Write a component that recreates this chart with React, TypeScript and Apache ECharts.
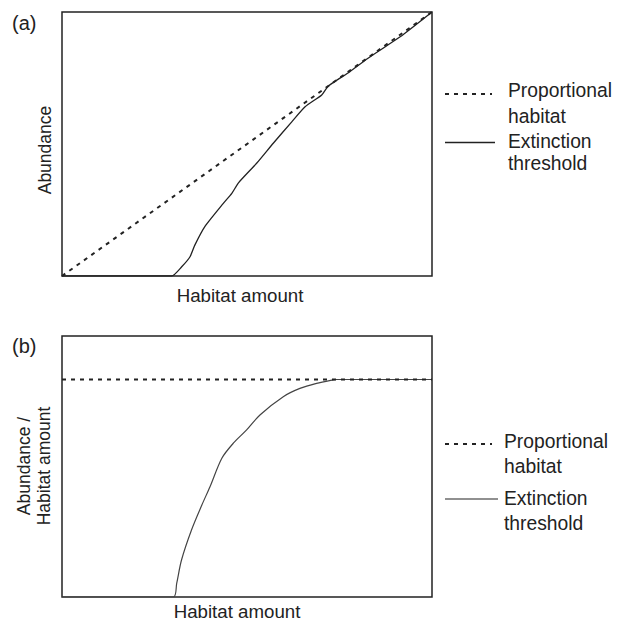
import React, { useEffect, useRef } from "react";
import * as echarts from "echarts";

// Panel (a): abundance vs habitat amount
const habitatA = [0, 0.296, 0.3235, 0.346, 0.359, 0.386, 0.436, 0.459, 0.477, 0.526, 0.571, 0.621, 0.657, 0.702, 0.72, 0.778, 0.824, 0.914, 1];
const abundanceA = [0, 0, 0.035, 0.073, 0.117, 0.187, 0.275, 0.313, 0.353, 0.427, 0.503, 0.584, 0.641, 0.686, 0.72, 0.774, 0.822, 0.906, 1];
const proportionalAX = [0, 1];
const proportionalAY = [0, 1];

// Panel (b): abundance / habitat amount vs habitat amount
const habitatB = [0, 0.301, 0.31, 0.323, 0.35, 0.378, 0.4, 0.432, 0.463, 0.499, 0.535, 0.598, 0.643, 0.688, 0.733, 0.742, 1];
const ratioB = [0, 0, 0.063, 0.17, 0.308, 0.423, 0.507, 0.638, 0.707, 0.768, 0.837, 0.921, 0.959, 0.982, 0.998, 1, 1];
const proportionalBX = [0, 1];
const proportionalBY = [1, 1];

const legendNames = ["Proportional\nhabitat", "Extinction\nthreshold"];
const panelLabels = ["(a)", "(b)"];
const xTitle = "Habitat amount";
const yTitles = ["Abundance", "Abundance /\nHabitat amount"];

const FONT = '"Liberation Sans", Arial, sans-serif';
const INK = "#222";

const zip = (xs: number[], ys: number[]) => xs.map((x, i) => [x, ys[i]]);

export default function App() {
  const ref = useRef<HTMLDivElement>(null);
  useEffect(() => {
    if (!ref.current) return;
    const chart = echarts.init(ref.current, undefined, { renderer: "svg" });
    const txt = (text: string, x: number, y: number, size: number, extra: any = {}) => ({
      type: "text",
      x,
      y,
      silent: true,
      ...extra,
      style: {
        text,
        fill: INK,
        font: `${size}px ${FONT}`,
        align: "left",
        verticalAlign: "middle",
        ...(extra.style || {}),
      },
    });
    const axisOff = {
      axisLine: { show: false },
      axisTick: { show: false },
      axisLabel: { show: false },
      splitLine: { show: false },
    };
    const lp = (l1: string) => l1.split("\n");
    const [propL1, propL2] = lp(legendNames[0]);
    const [extL1, extL2] = lp(legendNames[1]);
    chart.setOption({
      animation: false,
      backgroundColor: "#fff",
      grid: [
        { left: 62, top: 12, width: 370, height: 264, show: true, borderColor: INK, borderWidth: 1.5, backgroundColor: "transparent" },
        { left: 62, top: 336, width: 370, height: 261, show: true, borderColor: INK, borderWidth: 1.5, backgroundColor: "transparent" },
      ],
      xAxis: [
        { type: "value", gridIndex: 0, min: 0, max: 1, ...axisOff },
        { type: "value", gridIndex: 1, min: 0, max: 1, ...axisOff },
      ],
      yAxis: [
        { type: "value", gridIndex: 0, min: 0, max: 1, ...axisOff },
        { type: "value", gridIndex: 1, min: 0, max: 1.2, ...axisOff },
      ],
      series: [
        {
          name: "Extinction threshold (a)",
          type: "line",
          xAxisIndex: 0,
          yAxisIndex: 0,
          data: zip(habitatA, abundanceA),
          symbol: "none",
          smooth: 0.2,
          lineStyle: { color: INK, width: 1.3 },
        },
        {
          name: "Proportional habitat (a)",
          type: "line",
          xAxisIndex: 0,
          yAxisIndex: 0,
          data: zip(proportionalAX, proportionalAY),
          symbol: "none",
          lineStyle: { color: INK, width: 2, type: [4, 5] },
        },
        {
          name: "Extinction threshold (b)",
          type: "line",
          xAxisIndex: 1,
          yAxisIndex: 1,
          data: zip(habitatB, ratioB),
          symbol: "none",
          smooth: 0.3,
          lineStyle: { color: "#444", width: 1.2 },
        },
        {
          name: "Proportional habitat (b)",
          type: "line",
          xAxisIndex: 1,
          yAxisIndex: 1,
          data: zip(proportionalBX, proportionalBY),
          symbol: "none",
          lineStyle: { color: INK, width: 2, type: [4, 5] },
        },
      ],
      graphic: [
        txt(panelLabels[0], 12, 23, 20),
        txt(panelLabels[1], 12, 346, 20),
        txt(xTitle, 240, 295, 18.7, { style: { align: "center" } }),
        txt(xTitle, 237, 611, 18.7, { style: { align: "center" } }),
        txt(yTitles[0], 45, 150, 17.5, { rotation: Math.PI / 2, style: { align: "center" } }),
        txt(yTitles[1], 34, 466, 17.5, { rotation: Math.PI / 2, style: { align: "center", lineHeight: 20 } }),
        // legend (a)
        { type: "line", silent: true, shape: { x1: 445, y1: 94, x2: 492, y2: 94 }, style: { stroke: INK, lineWidth: 2, lineDash: [4, 5] } },
        txt(propL1, 508, 90, 19.3),
        txt(propL2, 508, 116, 19.3),
        { type: "line", silent: true, shape: { x1: 445, y1: 142.5, x2: 495, y2: 142.5 }, style: { stroke: INK, lineWidth: 1.3 } },
        txt(extL1, 508, 141.5, 19.3),
        txt(extL2, 508, 163, 19.3),
        // legend (b)
        { type: "line", silent: true, shape: { x1: 445, y1: 444, x2: 492, y2: 444 }, style: { stroke: INK, lineWidth: 2, lineDash: [4, 5] } },
        txt(propL1, 504, 441, 19.3),
        txt(propL2, 504, 466, 19.3),
        { type: "line", silent: true, shape: { x1: 445, y1: 499, x2: 498, y2: 499 }, style: { stroke: INK, lineWidth: 1.2 } },
        txt(extL1, 504, 498, 19.3),
        txt(extL2, 504, 523, 19.3),
      ],
    });
    return () => chart.dispose();
  }, []);
  return (
    <div
      ref={ref}
      style={{ position: "fixed", left: 0, top: 0, width: 619, height: 622 }}
    />
  );
}
